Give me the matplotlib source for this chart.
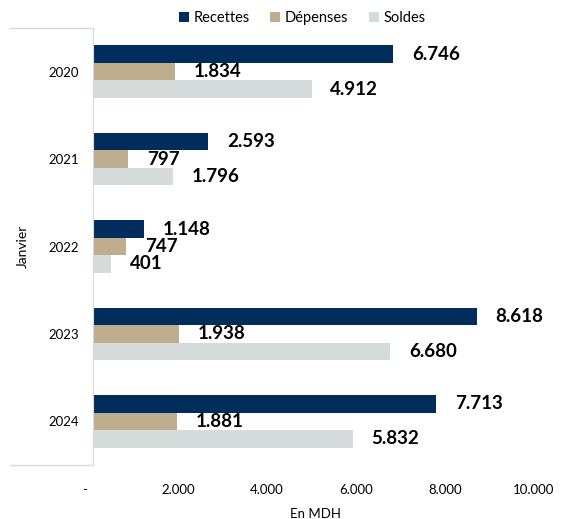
import matplotlib.pyplot as plt
import matplotlib.transforms as mtransforms
import numpy as np
from matplotlib.ticker import FuncFormatter

plt.rcParams['font.family'] = ['Lato', 'DejaVu Sans']

# Data
years = ["2020", "2021", "2022", "2023", "2024"]
recettes = [6746, 2593, 1148, 8618, 7713]
depenses = [1834, 797, 747, 1938, 1881]
soldes = [4912, 1796, 401, 6680, 5832]

series = [("Recettes", recettes, "#002D5C"),
          ("Dépenses", depenses, "#BFAE8E"),
          ("Soldes", soldes, "#D5DBDB")]

fig = plt.figure(figsize=(5.66, 5.19), dpi=100)
ax = fig.add_axes([93 / 566, 1 - 465 / 519, 445 / 566, 437 / 519])

y = np.arange(len(years))
h = 0.2
for i, (name, vals, col) in enumerate(series):
    pos = y + (i - 1) * h
    ax.barh(pos, vals, height=h, color=col, label=name)
    for p, v in zip(pos, vals):
        ax.annotate(f"{v:,}".replace(",", "."), (v, p), xytext=(13.5, 0),
                    textcoords="offset points", va="center", ha="left",
                    fontsize=13.5, fontweight="bold", color="black")

ax.set_xlim(0, 10000)
ax.set_ylim(len(years) - 0.5, -0.5)
ax.set_xticks(range(0, 10001, 2000))
ax.xaxis.set_major_formatter(FuncFormatter(
    lambda v, p: "-" if v == 0 else f"{int(v):,}".replace(",", ".")))
ax.set_yticks(y)
ax.set_yticklabels(years)
ax.tick_params(axis="both", length=0, labelsize=9.5, colors="#000000")
ax.tick_params(axis="y", pad=10)
ax.tick_params(axis="x", pad=14)

# shift x tick labels slightly left, as in the original
shift = mtransforms.ScaledTranslation(-4 / 100, 0, fig.dpi_scale_trans)
for lab in ax.get_xticklabels():
    lab.set_transform(lab.get_transform() + shift)
ax.get_xticklabels()[0].set_transform(
    ax.get_xticklabels()[0].get_transform()
    + mtransforms.ScaledTranslation(-4 / 100, 0, fig.dpi_scale_trans))

for s in ["top", "right", "bottom"]:
    ax.spines[s].set_visible(False)
ax.spines["left"].set_color("#D9D9D9")

# multi-level category bracket
for yy in [0, 1]:
    ax.plot([-83 / 445, 0], [yy, yy], transform=ax.transAxes,
            color="#D9D9D9", lw=1, clip_on=False)
ax.text(-70 / 445, 0.5, "Janvier", transform=ax.transAxes, rotation=90,
        va="center", ha="center", fontsize=10)

ax.set_xlabel("En MDH", fontsize=9.5, labelpad=8)

ax.legend(loc="center", bbox_to_anchor=(302 / 566, 1 - 18 / 519),
          bbox_transform=fig.transFigure, ncol=3, frameon=False,
          fontsize=10.5, handlelength=0.7, handleheight=0.7,
          handletextpad=0.3, columnspacing=1.4)

fig.savefig("out.png", dpi=100)
